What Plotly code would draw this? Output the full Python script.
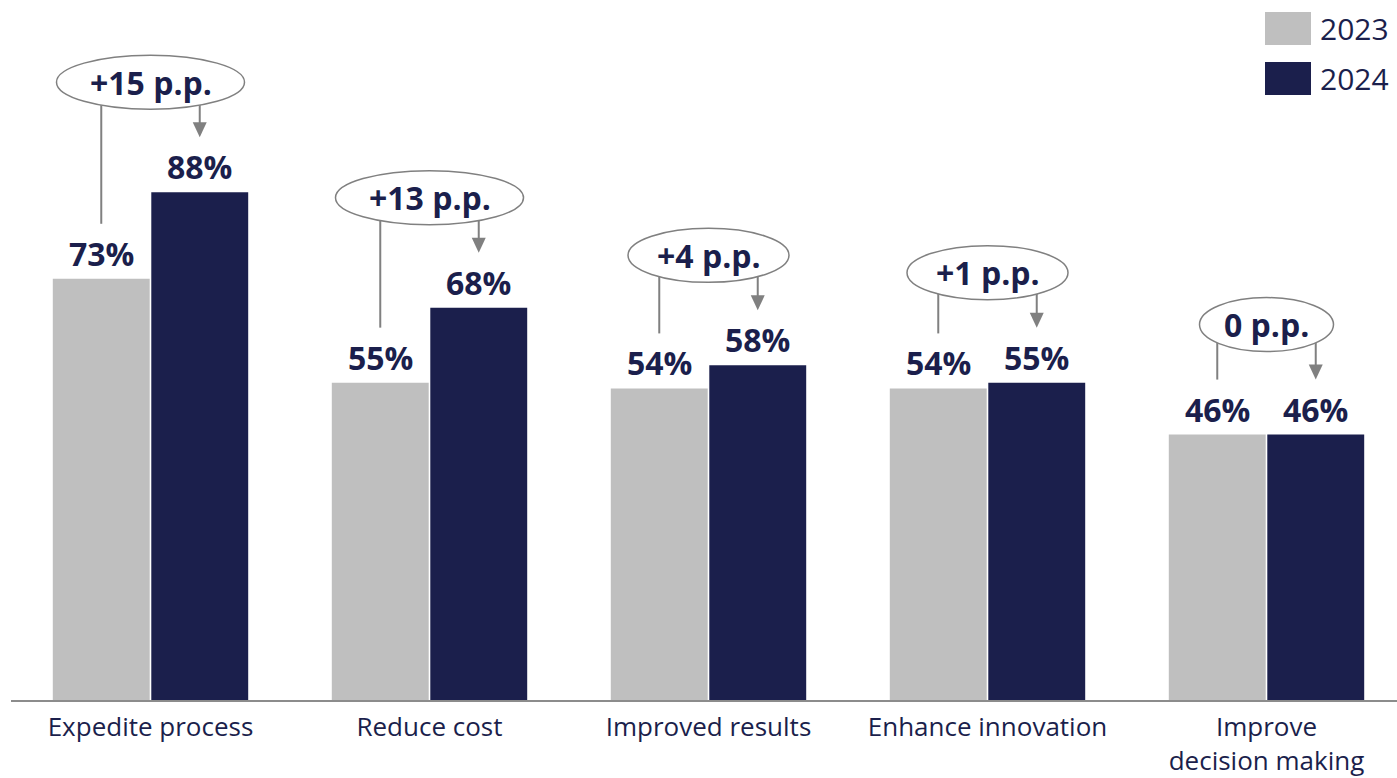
import plotly.graph_objects as go

# Survey results: share of respondents citing each benefit
categories = ["Expedite process", "Reduce cost", "Improved results",
              "Enhance innovation", "Improve<br>decision making"]
values_2023 = [73, 55, 54, 54, 46]
values_2024 = [88, 68, 58, 55, 46]
years = ["2023", "2024"]

NAVY = "#1b1f4c"
GREY_BAR = "#bfbfbf"
GREY_LINE = "#808080"
FONT = "Open Sans"

# Layout geometry (pixels)
W, H = 1397, 778
M_L, M_R, M_T, M_B = 11, 0, 10, 78
PLOT_W = W - M_L - M_R
PLOT_H = H - M_T - M_B
PX_PER_PCT = 5.77
Y_MAX = PLOT_H / PX_PER_PCT
PX_PER_CAT = 279.0
X_MIN = -0.5
X_MAX = X_MIN + PLOT_W / PX_PER_CAT
BARGAP = 0.294
HALF_SLOT = (1 - BARGAP) / 4  # offset of each bar centre from its category

xs = list(range(len(categories)))

fig = go.Figure()
fig.add_trace(go.Bar(x=xs, y=values_2023, name=years[0], marker_color=GREY_BAR,
                     marker_line_width=0, showlegend=False))
fig.add_trace(go.Bar(x=xs, y=values_2024, name=years[1], marker_color=NAVY,
                     marker_line_width=0, showlegend=False))

annotations = []
shapes = []

# value labels above each bar
for i, (a, b) in enumerate(zip(values_2023, values_2024)):
    for xv, v in ((i - HALF_SLOT, a), (i + HALF_SLOT, b)):
        annotations.append(dict(
            x=xv, y=v, xref="x", yref="y", text=f"<b>{v}%</b>",
            showarrow=False, yanchor="bottom", yshift=2,
            font=dict(family=FONT, size=32, color=NAVY)))

# change call-outs: ellipse with connector line and arrow
ELL_OFFSET = 110   # ellipse centre above the 2024 bar
ELL_HALF_H = 27
LINE_GAP = 55      # gap between connector end and bar top
HEAD_H, HEAD_W = 15, 7
for i, (a, b) in enumerate(zip(values_2023, values_2024)):
    diff = b - a
    label = f"+{diff} p.p." if diff > 0 else f"{diff} p.p."
    half_w = 13.5 * len(label) - 14
    x_left = i - HALF_SLOT
    x_right = i + HALF_SLOT
    # connector from the ellipse down to the 2023 label
    top_px_from_a = (b - a) * PX_PER_PCT + ELL_OFFSET
    shapes.append(dict(
        type="line", xref="x", yref="y", ysizemode="pixel", yanchor=a,
        x0=x_left, x1=x_left, y0=LINE_GAP, y1=top_px_from_a,
        line=dict(color=GREY_LINE, width=2)))
    # arrow shaft down to the 2024 label
    shapes.append(dict(
        type="line", xref="x", yref="y", ysizemode="pixel", yanchor=b,
        x0=x_right, x1=x_right, y0=LINE_GAP + HEAD_H - 1, y1=ELL_OFFSET,
        line=dict(color=GREY_LINE, width=2)))
    # arrow head
    shapes.append(dict(
        type="path", xref="x", yref="y", xsizemode="pixel", ysizemode="pixel",
        xanchor=x_right, yanchor=b,
        path=(f"M {-HEAD_W},{LINE_GAP + HEAD_H} L {HEAD_W},{LINE_GAP + HEAD_H} "
              f"L 0,{LINE_GAP} Z"),
        fillcolor=GREY_LINE, line=dict(width=0)))
    # ellipse
    shapes.append(dict(
        type="circle", xref="x", yref="y", xsizemode="pixel", ysizemode="pixel",
        xanchor=i, yanchor=b,
        x0=-half_w, x1=half_w,
        y0=ELL_OFFSET - ELL_HALF_H, y1=ELL_OFFSET + ELL_HALF_H,
        fillcolor="white", line=dict(color=GREY_LINE, width=1.5)))
    annotations.append(dict(
        x=i, y=b, xref="x", yref="y", text=f"<b>{label}</b>",
        showarrow=False, yanchor="middle", yshift=ELL_OFFSET,
        font=dict(family=FONT, size=32, color=NAVY)))


# legend drawn in paper coordinates
def px_x(px):
    return (px - M_L) / PLOT_W


def px_y(py):
    return (M_T + PLOT_H - py) / PLOT_H


for k, (name, col) in enumerate(zip(years, [GREY_BAR, NAVY])):
    top = 12 + 50 * k
    shapes.append(dict(
        type="rect", xref="paper", yref="paper",
        x0=px_x(1265), x1=px_x(1311), y0=px_y(top + 33), y1=px_y(top),
        fillcolor=col, line=dict(width=0)))
    annotations.append(dict(
        x=px_x(1318), y=px_y(top + 17), xref="paper", yref="paper",
        text=name, showarrow=False, xanchor="left", yanchor="middle",
        font=dict(family=FONT, size=30, color=NAVY)))

fig.update_layout(
    width=W, height=H,
    margin=dict(l=M_L, r=M_R, t=M_T, b=M_B),
    paper_bgcolor="white", plot_bgcolor="white",
    barmode="group", bargap=BARGAP, bargroupgap=0.016,
    shapes=shapes, annotations=annotations,
    showlegend=False,
    xaxis=dict(range=[X_MIN, X_MAX], tickmode="array", tickvals=xs,
               ticktext=categories, showgrid=False, zeroline=False,
               showline=True, linecolor="#8c8c8c", linewidth=2,
               ticks="", ticklabelstandoff=3, automargin=False,
               tickfont=dict(family=FONT, size=26, color=NAVY)),
    yaxis=dict(range=[0, Y_MAX], visible=False, showgrid=False, zeroline=False,
               automargin=False),
)

fig.write_html("out.html")
